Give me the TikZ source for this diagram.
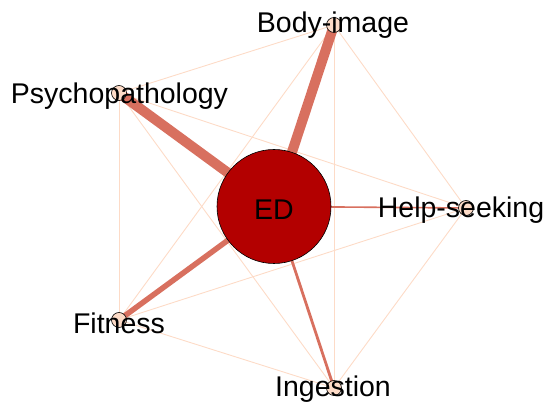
\documentclass[tikz,border=0pt]{standalone}
\usepackage{fontspec}
\setmainfont{Liberation Sans}
\definecolor{edstrong}{HTML}{D8705F}
\definecolor{edlight}{HTML}{FDDBC7}
\definecolor{edfill}{HTML}{B30000}
\begin{document}
\begin{tikzpicture}[x=1pt,y=-1pt,
  small/.style={circle,draw=black,fill=edlight,line width=0.6pt,minimum size=15pt,inner sep=0pt},
  big/.style={circle,draw=black,fill=edfill,line width=0.6pt,minimum size=114pt,inner sep=0pt},
  lab/.style={font=\fontsize{28.5}{28.5}\selectfont,inner sep=0pt,anchor=center},
  weak/.style={draw=edlight,line width=0.9pt},
  strong/.style={draw=edstrong}]
\useasboundingbox (0,0) rectangle (544,403);
\coordinate (ed) at (274,206.5);
\coordinate (bi) at (334,25);
\coordinate (ps) at (119,93);
\coordinate (hs) at (466,208);
\coordinate (fi) at (119,320);
\coordinate (in) at (334,388);
% weak edges among small nodes
\draw[weak] (bi) -- (ps);
\draw[weak] (bi) -- (hs);
\draw[weak] (bi) -- (fi);
\draw[weak] (bi) -- (in);
\draw[weak] (ps) -- (hs);
\draw[weak] (ps) -- (fi);
\draw[weak] (ps) -- (in);
\draw[weak] (hs) -- (fi);
\draw[weak] (hs) -- (in);
\draw[weak] (fi) -- (in);
% strong edges from ED
\draw[strong,line width=10pt] (ed) -- (bi);
\draw[strong,line width=10pt] (ed) -- (ps);
\draw[strong,line width=5.5pt] (ed) -- (fi);
\draw[strong,line width=2.8pt] (ed) -- (in);
\draw[strong,line width=1.6pt] (ed) -- (hs);
% nodes
\node[big] (EDn) at (ed) {};
\node[small] (BIn) at (bi) {};
\node[small] (PSn) at (ps) {};
\node[small] (HSn) at (hs) {};
\node[small] (FIn) at (fi) {};
\node[small] (INn) at (in) {};
% labels
\node[lab] (EDl) at (274,210) {ED};
\node[lab] (BIl) at (333,25) {Body-image};
\node[lab] (PSl) at (119.5,96) {Psychopathology};
\node[lab] (HSl) at (461,210) {Help-seeking};
\node[lab] (FIl) at (119,323) {Fitness};
\node[lab] (INl) at (333,389) {Ingestion};
\end{tikzpicture}
\end{document}
